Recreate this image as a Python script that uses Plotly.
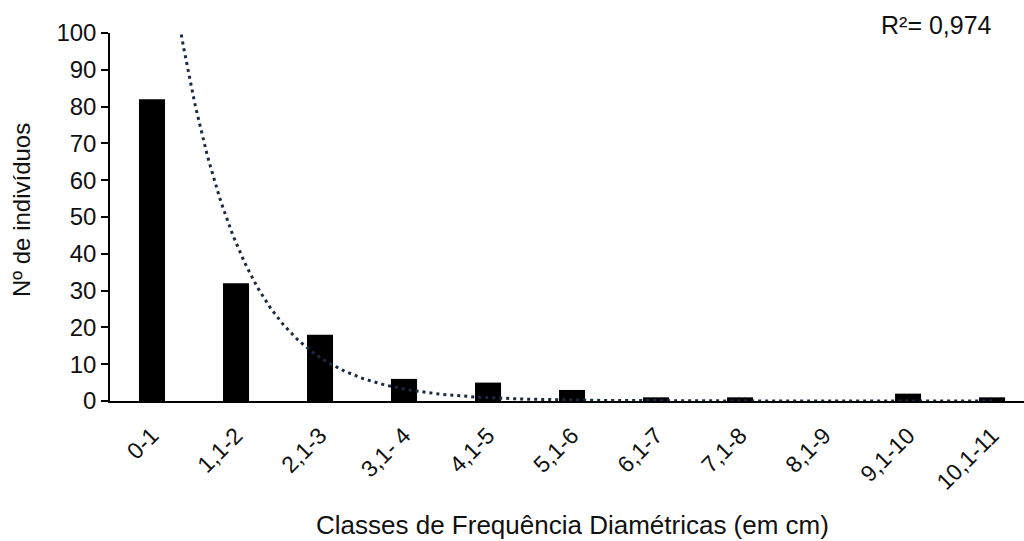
import numpy as np
import plotly.graph_objects as go

categories = ["0-1", "1,1-2", "2,1-3", "3,1- 4", "4,1-5", "5,1-6", "6,1-7",
              "7,1-8", "8,1-9", "9,1-10", "10,1-11"]
counts = [82, 32, 18, 6, 5, 3, 1, 1, 0, 2, 1]

# exponential trendline y = A * exp(B * x), x = class number (1..11)
TREND_A = 567.0
TREND_B = -1.29
r2_label = "R²= 0,974"

FONT = "Liberation Sans, Arial, sans-serif"
TXT = "#111111"

xs = np.linspace(0, len(categories) - 1, 400)
ys = TREND_A * np.exp(TREND_B * (xs + 1))

L, T, B = 110, 33, 140
PW, PH = 1024 - L, 541 - T - B

fig = go.Figure()
fig.add_trace(go.Bar(
    x=list(range(len(categories))), y=counts,
    marker=dict(color="#000000", line=dict(width=0)),
    width=0.31, showlegend=False,
))
fig.add_trace(go.Scatter(
    x=xs, y=ys, mode="lines",
    line=dict(color="#1c2a44", width=3, dash="3px,4px"),
    showlegend=False, hoverinfo="skip",
))

fig.update_layout(
    width=1024, height=541,
    margin=dict(l=L, r=0, t=T, b=B),
    plot_bgcolor="white", paper_bgcolor="white",
    font=dict(family=FONT, color=TXT, size=24),
    xaxis=dict(
        range=[-0.5, 10.38],
        tickmode="array", tickvals=list(range(len(categories))), ticktext=categories,
        tickangle=-45, ticks="", showgrid=False, zeroline=False,
        showline=True, linecolor="#000000", linewidth=2,
        ticklabelstandoff=10,
        tickfont=dict(size=23, family=FONT, color=TXT),
    ),
    yaxis=dict(
        range=[0, 100], dtick=10, ticks="outside", ticklen=7, tickwidth=1.5,
        tickcolor="#000000", showgrid=False, zeroline=False,
        showline=True, linecolor="#000000", linewidth=1.5,
        tickfont=dict(size=24, family=FONT, color=TXT),
    ),
    annotations=[
        dict(text=r2_label, xref="paper", yref="paper", x=(994 - L) / PW, y=1 + (T - 25) / PH,
             xanchor="right", yanchor="middle", showarrow=False,
             font=dict(size=25, family=FONT, color=TXT)),
        dict(text="Classes de Frequência Diamétricas (em cm)", xref="paper", yref="paper",
             x=(572 - L) / PW, y=-(525 - (541 - B)) / PH, xanchor="center", yanchor="middle",
             showarrow=False, font=dict(size=26, family=FONT, color=TXT)),
        dict(text="Nº de indivíduos", xref="paper", yref="paper",
             x=-(L - 21) / PW, y=((541 - B) - 210) / PH, xanchor="center", yanchor="middle",
             textangle=-90, showarrow=False, font=dict(size=24, family=FONT, color=TXT)),
    ],
)

fig.write_html("out.html", config={"displayModeBar": False},
               post_script="document.body.style.margin='0';")
